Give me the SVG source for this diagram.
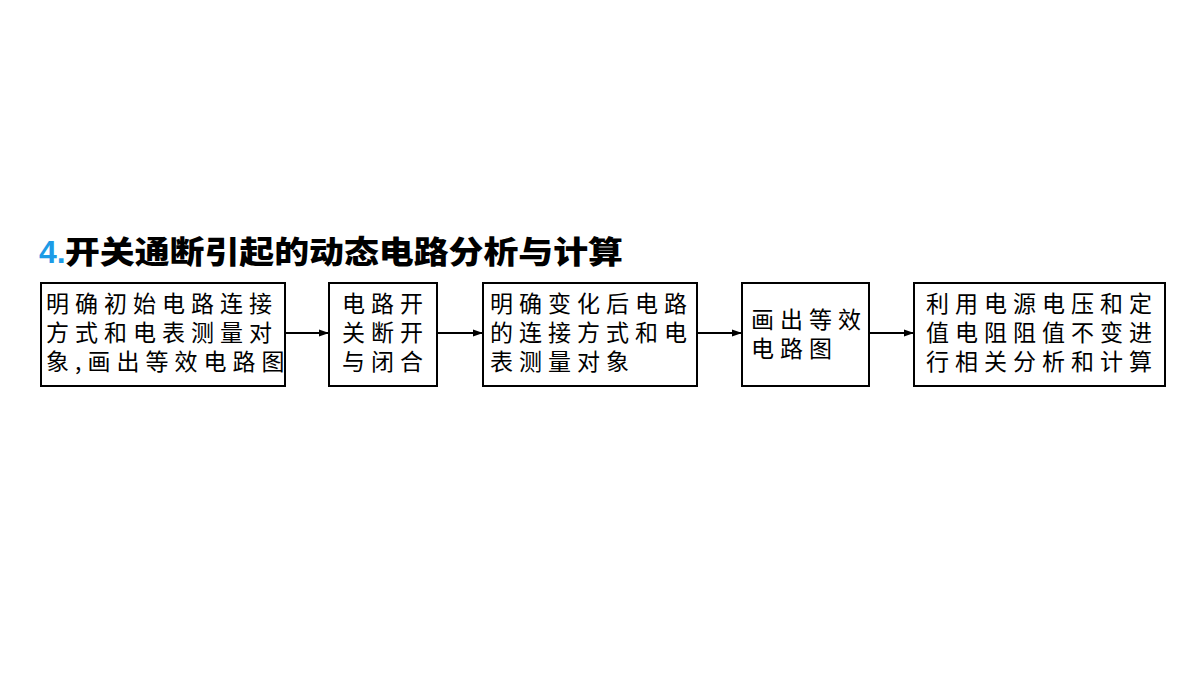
<svg xmlns="http://www.w3.org/2000/svg" width="1200" height="675" viewBox="0 0 1200 675">
<style>
.box{fill:#fff;stroke:#000;stroke-width:2}
.t{font-family:"Noto Sans CJK SC","Noto Sans CJK JP",sans-serif;font-size:23px;letter-spacing:6px;fill:#000}
.c{stroke:#000;stroke-width:2;fill:none}
</style>
<defs>
<marker id="ah" viewBox="0 0 10 10" refX="10" refY="5" markerWidth="5" markerHeight="5" markerUnits="strokeWidth" orient="auto">
<path d="M0,1.5 L10,5 L0,8.5 Z" fill="#000"/>
</marker>
</defs>
<rect width="1200" height="675" fill="#fff"/>
<g id="title">
<text x="39" y="263" style="font-family:'Liberation Sans',Arial,sans-serif;font-size:32px;font-weight:bold;fill:#1d9be6">4.</text>
<text x="65" y="263" textLength="558" lengthAdjust="spacingAndGlyphs" style="font-family:'Noto Sans CJK SC',sans-serif;font-size:31px;font-weight:900;fill:#000">开关通断引起的动态电路分析与计算</text>
</g>
<g id="connectors">
<line class="c" x1="285" y1="333" x2="329" y2="333" marker-end="url(#ah)"/>
<line class="c" x1="437" y1="333" x2="483" y2="333" marker-end="url(#ah)"/>
<line class="c" x1="697" y1="333" x2="742" y2="333" marker-end="url(#ah)"/>
<line class="c" x1="869" y1="333" x2="914" y2="333" marker-end="url(#ah)"/>
</g>
<g id="node1">
<rect class="box" x="41" y="283" width="244" height="103"/>
<text class="t" x="46" y="312">明确初始电路连接</text>
<text class="t" x="46" y="341">方式和电表测量对</text>
<text class="t" x="46" y="370">象,画出等效电路图</text>
</g>
<g id="node2">
<rect class="box" x="329" y="283" width="108" height="103"/>
<text class="t" x="342" y="312">电路开</text>
<text class="t" x="342" y="341">关断开</text>
<text class="t" x="342" y="370">与闭合</text>
</g>
<g id="node3">
<rect class="box" x="483" y="283" width="214" height="103"/>
<text class="t" x="490" y="312">明确变化后电路</text>
<text class="t" x="490" y="341">的连接方式和电</text>
<text class="t" x="490" y="370">表测量对象</text>
</g>
<g id="node4">
<rect class="box" x="742" y="283" width="127" height="103"/>
<text class="t" x="751" y="328">画出等效</text>
<text class="t" x="751" y="357">电路图</text>
</g>
<g id="node5">
<rect class="box" x="914" y="283" width="251" height="103"/>
<text class="t" x="926" y="312">利用电源电压和定</text>
<text class="t" x="926" y="341">值电阻阻值不变进</text>
<text class="t" x="926" y="370">行相关分析和计算</text>
</g>
</svg>
